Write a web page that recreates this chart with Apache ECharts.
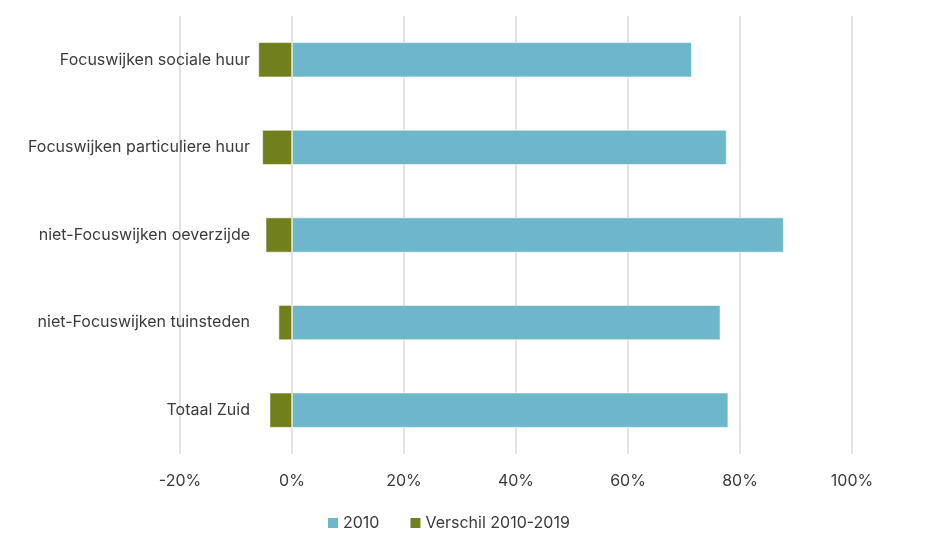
<!DOCTYPE html>
<html>
<head>
<meta charset="utf-8">
<script src="https://cdn.jsdelivr.net/npm/echarts@6/dist/echarts.min.js"></script>
<style>
  html, body { margin: 0; padding: 0; background: #fff; }
  #main { width: 931px; height: 545px; }
</style>
</head>
<body>
<div id="main"></div>
<script>
var chartDom = document.getElementById('main');
var myChart = echarts.init(chartDom);
var option;

const wijken = [
  'Focuswijken sociale huur',
  'Focuswijken particuliere huur',
  'niet-Focuswijken oeverzijde',
  'niet-Focuswijken tuinsteden',
  'Totaal Zuid'
];
const waarden2010 = [71.4, 77.6, 87.8, 76.5, 77.9];
const verschil = [-6.0, -5.3, -4.7, -2.4, -4.0];

const blue = '#6eb6ca';
const green = '#71801c';
const textColor = '#3a3a3a';
const fontName = 'Inter';

option = {
  animation: false,
  textStyle: { fontFamily: fontName },
  legend: {
    bottom: 9,
    left: 321,
    itemWidth: 12,
    itemHeight: 12,
    itemGap: 29,
    icon: 'rect',
    textStyle: { color: textColor, fontSize: 16, fontFamily: fontName, padding: [0, 0, 0, -1] },
    data: ['2010', 'Verschil 2010-2019']
  },
  grid: {
    left: 180, right: 79, top: 16, bottom: 91,
    containLabel: false,
    outerBoundsMode: 'none'
  },
  xAxis: {
    type: 'value',
    min: -20,
    max: 100,
    interval: 20,
    axisLine: { show: false },
    axisTick: { show: false },
    axisLabel: {
      formatter: '{value}%',
      color: textColor,
      fontSize: 16,
      margin: 19
    },
    splitLine: { lineStyle: { color: '#d9d9d9', width: 1.5 } }
  },
  yAxis: {
    type: 'category',
    inverse: true,
    data: wijken,
    axisLine: { show: false, onZero: false },
    axisTick: { show: false },
    // labels sit right-aligned left of the 0% line
    axisLabel: { color: textColor, fontSize: 16, margin: -70, align: 'right' }
  },
  series: [
    {
      name: '2010',
      type: 'bar',
      stack: 'tot',
      barWidth: 35,
      itemStyle: { color: blue, borderColor: '#ffffff', borderWidth: 0.6 },
      data: waarden2010
    },
    {
      name: 'Verschil 2010-2019',
      type: 'bar',
      stack: 'tot',
      barWidth: 35,
      itemStyle: { color: green, borderColor: '#ffffff', borderWidth: 0.6 },
      data: verschil
    }
  ]
};

myChart.setOption(option);
</script>
</body>
</html>
